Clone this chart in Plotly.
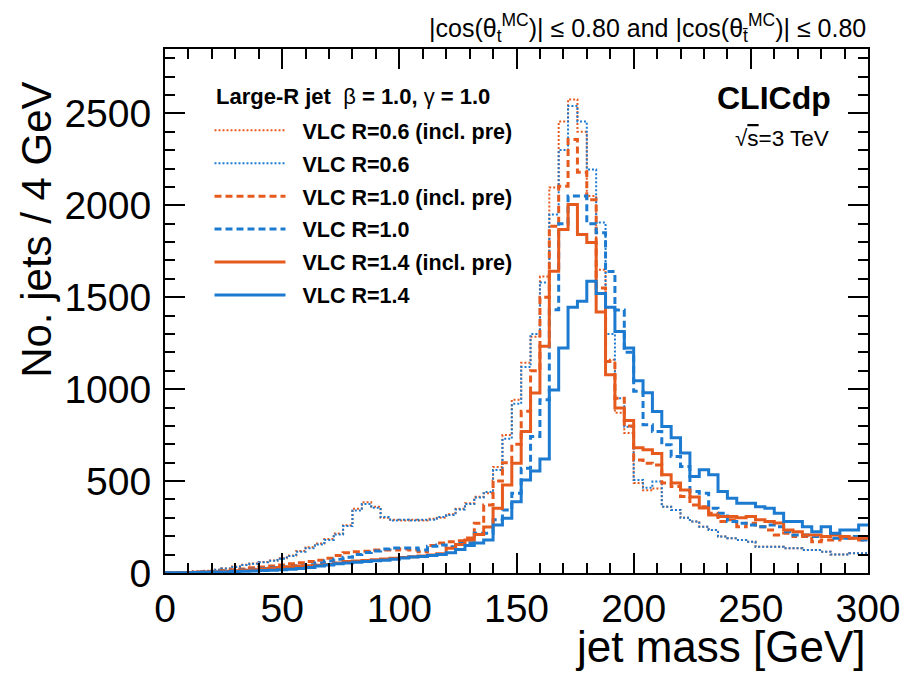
import plotly.graph_objects as go

# jet-mass binning: 4 GeV bins from 0 to 300 GeV (bin edges)
mass_edges = list(range(0, 304, 4))

# --- series values (No. jets per 4 GeV bin) ---
vlc06_incl_pre = [2, 3, 5, 8, 12, 18, 25, 35, 45, 52,
                  60, 68, 80, 95, 120, 140, 160, 185, 215, 260,
                  350, 385, 360, 300, 290, 285, 290, 285, 295, 300,
                  320, 350, 380, 415, 434, 577, 750, 942, 1144, 1285,
                  1612, 2097, 2456, 2576, 2400, 2050, 1650, 1160, 871, 762,
                  490, 450, 460, 361, 343, 300, 280, 252, 234, 198,
                  189, 180, 170, 143, 143, 143, 134, 134, 125, 125,
                  116, 100, 100, 107, 107]
vlc06 = [2, 3, 4, 7, 11, 17, 24, 33, 43, 50,
         58, 66, 78, 92, 115, 135, 155, 180, 210, 255,
         340, 375, 355, 305, 285, 290, 285, 290, 290, 305,
         315, 345, 375, 410, 440, 560, 730, 920, 1120, 1300,
         1580, 1950, 2300, 2540, 2456, 2195, 1906, 1300, 950, 795,
         506, 463, 497, 361, 343, 300, 280, 252, 234, 198,
         189, 180, 170, 143, 143, 143, 134, 134, 125, 125,
         116, 100, 100, 107, 107]
vlc10_incl_pre = [1, 2, 3, 5, 7, 10, 13, 17, 22, 28,
                  33, 38, 44, 50, 56, 62, 70, 80, 95, 110,
                  116, 118, 125, 125, 125, 130, 125, 116, 150, 163,
                  170, 175, 190, 270, 370, 500, 600, 700, 880, 1100,
                  1500, 1886, 2104, 2358, 2180, 2030, 1550, 1150, 950, 800,
                  615, 597, 588, 490, 470, 416, 370, 361, 325, 280,
                  289, 252, 270, 252, 234, 207, 216, 198, 198, 170,
                  180, 180, 189, 189, 180]
vlc10 = [1, 2, 3, 4, 6, 8, 10, 13, 16, 20,
         24, 28, 32, 36, 40, 45, 55, 65, 75, 85,
         100, 111, 120, 130, 136, 136, 136, 125, 145, 152,
         143, 160, 165, 216, 216, 289, 343, 434, 570, 743,
         942, 1432, 1900, 2050, 2050, 1900, 1850, 1640, 1430, 1200,
         988, 806, 770, 697, 634, 579, 443, 434, 352, 325,
         280, 270, 261, 252, 261, 252, 225, 207, 207, 198,
         198, 189, 189, 198, 180]
vlc14_incl_pre = [1, 2, 3, 4, 5, 7, 9, 12, 15, 18,
                  22, 26, 30, 34, 38, 40, 42, 46, 55, 62,
                  65, 68, 72, 76, 80, 84, 88, 92, 98, 105,
                  135, 155, 180, 210, 250, 352, 479, 597, 770, 979,
                  1233, 1641, 1868, 2004, 1841, 1797, 1420, 1078, 898, 830,
                  681, 670, 650, 534, 490, 452, 414, 354, 316, 307,
                  307, 300, 307, 289, 280, 272, 234, 225, 207, 207,
                  198, 207, 198, 189, 189]
vlc14 = [1, 2, 2, 3, 4, 5, 6, 8, 9, 11,
         13, 15, 17, 20, 24, 30, 38, 44, 50, 54,
         58, 62, 66, 70, 75, 82, 87, 90, 95, 100,
         110, 128, 150, 163, 180, 261, 298, 388, 506, 555,
         620, 995, 1224, 1445, 1478, 1587, 1520, 1445, 1314, 1224,
         1045, 980, 879, 797, 735, 653, 525, 561, 534, 443,
         407, 380, 380, 361, 352, 325, 280, 280, 252, 225,
         252, 216, 234, 234, 261]

series_names = ["VLC R=0.6 (incl. pre)", "VLC R=0.6",
                "VLC R=1.0 (incl. pre)", "VLC R=1.0",
                "VLC R=1.4 (incl. pre)", "VLC R=1.4"]
series_values = [vlc06_incl_pre, vlc06, vlc10_incl_pre, vlc10, vlc14_incl_pre, vlc14]

ORANGE = "#E65A1E"
BLUE = "#1C7BD0"
styles = [
    dict(color=ORANGE, width=2, dash="2px,2px"),
    dict(color=BLUE, width=2, dash="2px,2px"),
    dict(color=ORANGE, width=3, dash="7px,4px"),
    dict(color=BLUE, width=3, dash="7px,4px"),
    dict(color=ORANGE, width=3, dash="solid"),
    dict(color=BLUE, width=3, dash="solid"),
]

FONT = "Liberation Sans, Arial, Helvetica, sans-serif"
TICKSIZE = 39
TITLESIZE = 44
LEGSIZE = 21.5

fig = go.Figure()
for name, vals, st in zip(series_names, series_values, styles):
    fig.add_trace(go.Scatter(
        x=mass_edges,
        y=vals + [vals[-1]],
        mode="lines",
        line=dict(shape="hv", **st),
        name="\u00a0\u00a0<b>" + name + "</b>",
        legendgroup=name,
        hoverinfo="skip",
    ))

axis_common = dict(
    showline=True, linecolor="black", linewidth=2, mirror="ticks",
    ticks="inside", ticklen=20, tickwidth=2, tickcolor="black",
    showgrid=False, zeroline=False,
    tickfont=dict(family=FONT, size=TICKSIZE, color="black"),
)

fig.update_layout(
    width=913, height=673,
    margin=dict(l=165, r=37, t=49, b=100),
    paper_bgcolor="white", plot_bgcolor="white",
    font=dict(family=FONT, color="black"),
    xaxis=dict(range=[0, 300], tick0=0, dtick=50,
               minor=dict(dtick=10, ticklen=10, tickwidth=2, ticks="inside", tickcolor="black"),
               ticklabelstandoff=0,
               **axis_common),
    yaxis=dict(range=[0, 2850], tick0=0, dtick=500,
               minor=dict(dtick=100, ticklen=10, tickwidth=2, ticks="inside", tickcolor="black"),
               ticklabelstandoff=4,
               **axis_common),
    legend=dict(
        x=0.0633, y=0.884, xanchor="left", yanchor="top",
        bgcolor="rgba(0,0,0,0)",
        font=dict(family=FONT, size=LEGSIZE, color="black"),
        itemwidth=71,
        tracegroupgap=2,
    ),
    showlegend=True,
)

annotations = [
    dict(text="<b>Large-R jet</b>  β <b>= 1.0,</b> γ <b>= 1.0</b>",
         xref="paper", yref="paper", x=0.069, y=0.910, xanchor="left", yanchor="middle",
         showarrow=False, font=dict(family=FONT, size=22, color="black")),
    dict(text="|cos(θ<sub>t</sub><sup>MC</sup>)| ≤ 0.80 and |cos(θ<sub>t̄</sub><sup>MC</sup>)| ≤ 0.80",
         xref="paper", yref="paper", x=1.0, y=1.040, xanchor="right", yanchor="middle",
         showarrow=False, font=dict(family=FONT, size=25, color="black")),
    dict(text="<b>CLICdp</b>", xref="paper", yref="paper", x=0.950, y=0.906,
         xanchor="right", yanchor="middle", showarrow=False,
         font=dict(family=FONT, size=32, color="black")),
    dict(text="√<span style='text-decoration:overline'>s</span>=3 TeV",
         xref="paper", yref="paper", x=0.947, y=0.830,
         xanchor="right", yanchor="middle", showarrow=False,
         font=dict(family=FONT, size=22.5, color="black")),
    dict(text="jet mass [GeV]", xref="paper", yref="paper", x=1.0, y=-0.141,
         xanchor="right", yanchor="middle", showarrow=False,
         font=dict(family=FONT, size=TITLESIZE, color="black")),
    dict(text="No. jets / 4 GeV", xref="paper", yref="paper", x=-0.182, y=0.655,
         xanchor="center", yanchor="middle", textangle=-90, showarrow=False,
         font=dict(family=FONT, size=TITLESIZE - 2, color="black")),
]
fig.update_layout(annotations=annotations)

# remove the default page margin and scrollbars so the figure fills the window exactly
fig.write_html(
    "out.html",
    config={"displayModeBar": False},
    post_script=("document.body.style.margin='0px';"
                 "document.body.style.overflow='hidden';"
                 "document.documentElement.style.overflow='hidden';"),
)
